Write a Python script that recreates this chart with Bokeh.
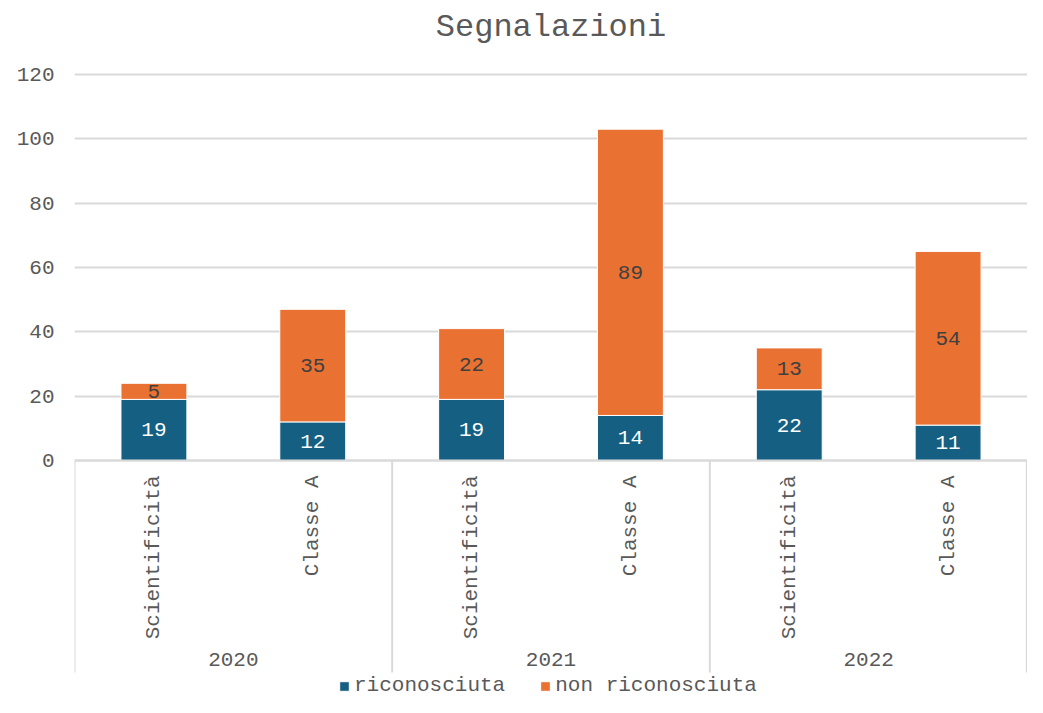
import math
from bokeh.plotting import figure
from bokeh.models import ColumnDataSource, Range1d, FixedTicker, Legend, LegendItem
from bokeh.core.properties import value
from bokeh.embed import file_html
from bokeh.resources import INLINE

# ---- data ----
years = ["2020", "2021", "2022"]
subcats = ["Scientificità", "Classe A"]
riconosciuta = [19, 12, 19, 14, 22, 11]
non_riconosciuta = [5, 35, 22, 89, 13, 54]
series_names = ["riconosciuta", "non riconosciuta"]
y_ticks = [0, 20, 40, 60, 80, 100, 120]
title_text = "Segnalazioni"

# ---- style ----
FONT = "Liberation Mono"
BLUE = "#156082"
ORANGE = "#E97132"
TXT = "#595959"
GRID = "#D9D9D9"
FS = "21px"

W, H = 1027, 697
LEFT = 74
Y0_PX = 460      # canvas y of value 0
Y120_PX = 74     # canvas y of value 120
ppu = (Y0_PX - Y120_PX) / 120.0
y_top = Y0_PX / ppu
y_bot = (Y0_PX - H) / ppu

n = len(riconosciuta)
xs = [i + 0.5 for i in range(n)]
cat_labels = [subcats[i % len(subcats)] for i in range(n)]

src = ColumnDataSource(dict(
    x=xs, ric=riconosciuta, non=non_riconosciuta, cat=cat_labels,
    y_ric_lbl=[v / 2 for v in riconosciuta],
    y_non_lbl=[a + b / 2 for a, b in zip(riconosciuta, non_riconosciuta)],
    ric_txt=[str(v) for v in riconosciuta],
    non_txt=[str(v) for v in non_riconosciuta],
))

p = figure(width=W, height=H, output_backend="svg", toolbar_location=None,
           x_range=Range1d(0, n), y_range=Range1d(y_bot, y_top),
           x_axis_location=None, y_axis_location="left",
           min_border_left=LEFT, min_border_right=0, min_border_top=0, min_border_bottom=0)
p.outline_line_color = None
p.background_fill_color = "white"
p.border_fill_color = "white"
p.xgrid.visible = False

p.ygrid.ticker = FixedTicker(ticks=y_ticks)
p.ygrid.grid_line_color = GRID
p.ygrid.grid_line_width = 2

ax = p.yaxis[0]
ax.ticker = FixedTicker(ticks=y_ticks)
ax.axis_line_color = None
ax.major_tick_line_color = None
ax.minor_tick_line_color = None
ax.major_tick_out = 0
ax.major_tick_in = 0
ax.major_label_standoff = 20
ax.major_label_text_font = FONT
ax.major_label_text_font_size = FS
ax.major_label_text_color = TXT

# bars
renderers = p.vbar_stack(["ric", "non"], x="x", width=0.415, source=src,
                         color=[BLUE, ORANGE], line_color="white", line_width=1)

# segment labels
p.text(x="x", y="y_ric_lbl", text="ric_txt", source=src, text_font=value(FONT),
       text_font_size=FS, text_color="white", text_align="center", text_baseline="middle")
p.text(x="x", y="y_non_lbl", text="non_txt", source=src, text_font=value(FONT),
       text_font_size=FS, text_color="#404040", text_align="center", text_baseline="middle")

# category axis (drawn)
p.text(x="x", y=-15 / ppu, text="cat", source=src, angle=math.pi / 2,
       text_font=value(FONT), text_font_size=FS, text_color=TXT,
       text_align="right", text_baseline="middle")

group_size = len(subcats)
gx = [g * group_size + group_size / 2 for g in range(len(years))]
p.text(x=gx, y=[-199 / ppu] * len(years), text=years, text_font=value(FONT),
       text_font_size=FS, text_color=TXT, text_align="center", text_baseline="middle")

bounds = [g * group_size for g in range(len(years) + 1)]
bounds[-1] = bounds[-1] - 0.004
box_bottom = -212 / ppu
p.segment(x0=bounds, x1=bounds, y0=[0] * len(bounds), y1=[box_bottom] * len(bounds),
          line_color=GRID, line_width=2)
p.segment(x0=[0], x1=[n], y0=[0], y1=[0], line_color=GRID, line_width=2)

# title
p.text(x=[n / 2], y=[(Y0_PX - 27) / ppu], text=[title_text], text_font=value(FONT),
       text_font_size="32px", text_color=TXT, text_align="center", text_baseline="middle")

legend = Legend(items=[LegendItem(label=series_names[i], renderers=[renderers[i]]) for i in range(2)],
                orientation="horizontal", location=(266 - 2, 0))
legend.label_text_font = FONT
legend.label_text_font_size = FS
legend.label_text_color = TXT
legend.glyph_width = 12
legend.glyph_height = 12
legend.label_standoff = 4
legend.spacing = 34
legend.padding = 0
legend.margin = 0
legend.border_line_color = None
legend.background_fill_alpha = 0
p.add_layout(legend)

open("out.html", "w").write(file_html(p, INLINE))
